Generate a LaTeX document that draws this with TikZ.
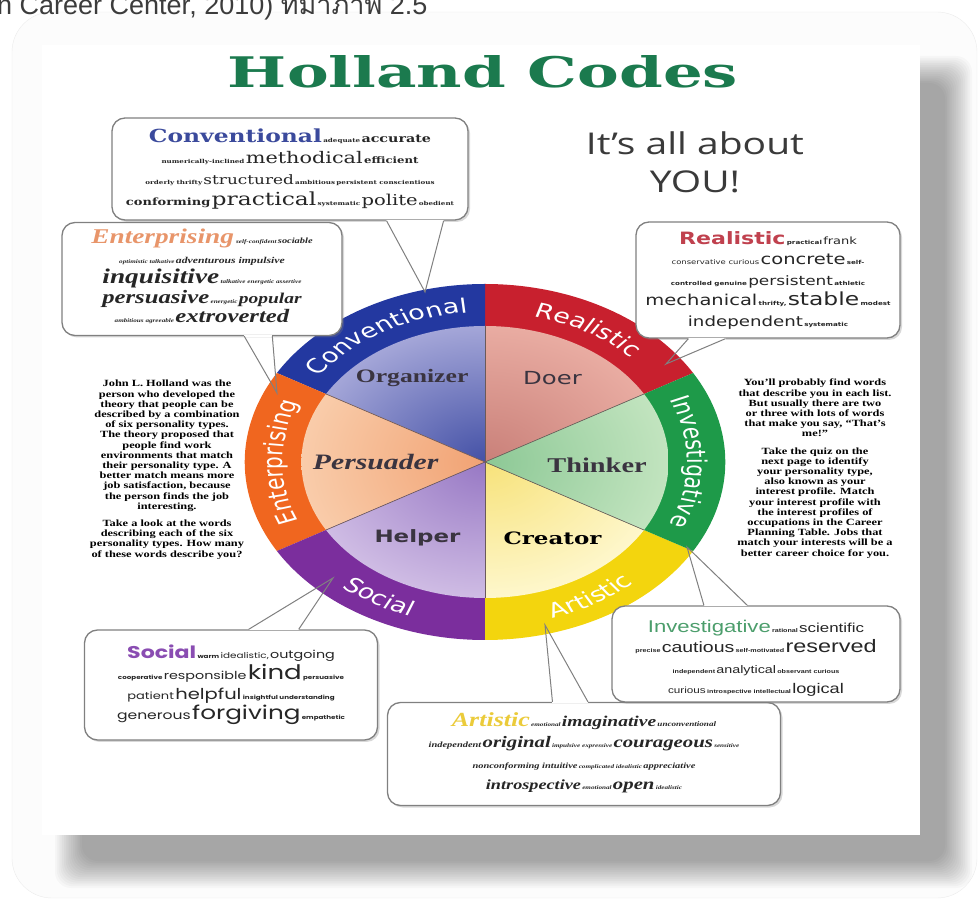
\documentclass[tikz,border=0pt]{standalone}
\usepackage{fontspec}
\usepackage{graphicx}
\setmainfont{Liberation Serif}
\setsansfont{DejaVu Sans}
\newfontfamily\dvserif{DejaVu Serif}
\newfontfamily\libsans{Liberation Sans}
\newfontfamily\roundfont{Poppins}
\newfontfamily\handfont{Open Sans}
\newfontfamily\thaifont[Script=Thai]{Loma}
\usetikzlibrary{calc,decorations.text,shadows}

\definecolor{titlegreen}{HTML}{1B7A4E}
\definecolor{realred}{HTML}{C8202E}
\definecolor{convblue}{HTML}{2338A0}
\definecolor{entorange}{HTML}{F0661F}
\definecolor{socpurple}{HTML}{7B2E9D}
\definecolor{artyellow}{HTML}{F3D50E}
\definecolor{invgreen}{HTML}{1E9A49}
\definecolor{realin}{HTML}{C98079}
\definecolor{realout}{HTML}{E9ACA2}
\definecolor{convin}{HTML}{4451A6}
\definecolor{convout}{HTML}{A4A6D8}
\definecolor{entin}{HTML}{F1A273}
\definecolor{entout}{HTML}{F9CCAA}
\definecolor{socin}{HTML}{9778C4}
\definecolor{socout}{HTML}{CFBCE4}
\definecolor{artin}{HTML}{F7E27A}
\definecolor{artout}{HTML}{FEF7CC}
\definecolor{invin}{HTML}{8CC895}
\definecolor{invout}{HTML}{C2E4BF}
\definecolor{convhead}{HTML}{3B4A9C}
\definecolor{enthead}{HTML}{E8956A}
\definecolor{realhead}{HTML}{C0414E}
\definecolor{invhead}{HTML}{4C9E6C}
\definecolor{sochead}{HTML}{8A4DB2}
\definecolor{arthead}{HTML}{EBCB3A}
\definecolor{boxgray}{HTML}{808080}
\definecolor{wordgray}{HTML}{262626}
\definecolor{pietext}{HTML}{3A3440}
\definecolor{dividercol}{HTML}{6B5A5A}
\definecolor{framegray}{HTML}{EBEBEB}
\definecolor{captiongray}{HTML}{3C3C3C}
\definecolor{handgray}{HTML}{3A3A3A}

\newcommand\fs[1]{\fontsize{#1}{#1}\selectfont}
\newcommand\tw[1]{{\fs{5.5}\bfseries #1}}
\newcommand\wide[1]{\scalebox{1.3}[1]{\begin{tabular}{@{}c@{}}#1\end{tabular}}}
\newcommand\ringfont{\sffamily\fs{20}}

\tikzset{
  callout/.style={draw=boxgray, line width=1.3pt, rounded corners=13pt, fill=white,
    drop shadow={shadow xshift=2pt, shadow yshift=-2pt, opacity=0.3}},
  pointer/.style={draw=boxgray, line width=1pt},
  cloud/.style={inner sep=0pt, text=wordgray},
  paratext/.style={inner sep=0pt, text=black, font=\bfseries\fontsize{9.5}{10.2}\selectfont},
  pielabel/.style={inner sep=0pt, text=pietext},
  divider/.style={draw=dividercol, line width=0.6pt},
  ringlabel/.style={decorate, decoration={text along path, text align=center,
    text color=white, text={|\ringfont|#1}}}
}

\begin{document}
\begin{tikzpicture}[x=1pt, y=1pt]
\useasboundingbox (0,0) rectangle (979,902);

% frame, shadow and poster
\draw[framegray, fill=gray!2, rounded corners=40pt] (12,4) rectangle (977,890);
\foreach \k in {0,...,15}
  \fill[black, opacity=0.022, rounded corners=16pt] (55+1.8*\k,14+1.8*\k) rectangle (972-1.8*\k,846-1.8*\k);
\fill[white] (42,67) rectangle (920,857);

\node[anchor=base west, inner sep=0pt, font=\libsans\fs{27}, text=captiongray] (caption)
  at (-3,887) {n Career Center, 2010) {\thaifont ที่มาภาพ} 2.5};

% title
\node[inner sep=0pt, text=titlegreen] (title) at (483,830)
  {\resizebox{510pt}{32pt}{\dvserif\bfseries Holland Codes}};
\node[inner sep=0pt, text=handgray, font=\handfont\fontsize{30}{38}\selectfont] (you)
  at (695,736) {\wide{It’s all about\\YOU!}};

% wheel
\begin{scope}[transform canvas={shift={(485,440)}, xscale=1.35}]
  \foreach \a/\ring/\pin/\pout in {30/realred/realin/realout, 90/convblue/convin/convout,
      150/entorange/entin/entout, 210/socpurple/socin/socout,
      270/artyellow/artin/artout, 330/invgreen/invin/invout} {
    \fill[\ring] (0,0) -- (\a:178) arc[start angle=\a, delta angle=60, radius=178] -- cycle;
    \begin{scope}
      \clip (0,0) -- (\a:136) arc[start angle=\a, delta angle=60, radius=136] -- cycle;
      \shade[inner color=\pin, outer color=\pout] (0,0) circle (136);
    \end{scope}
  }
  \foreach \a in {30,90,...,330}
    \draw[divider] (0,0) -- (\a:136);
  % ring labels
  \path[ringlabel=Realistic] (90:150) arc[start angle=90, end angle=30, radius=150];
  \path[ringlabel=Conventional] (150:150) arc[start angle=150, end angle=90, radius=150];
  \path[ringlabel=Enterprising] (210:150) arc[start angle=210, end angle=150, radius=150];
  \path[ringlabel=Investigative] (30:150) arc[start angle=30, end angle=-30, radius=150];
  \path[ringlabel=Social] (210:164) arc[start angle=210, end angle=270, radius=164];
  \path[ringlabel=Artistic] (270:164) arc[start angle=270, end angle=330, radius=164];
  % pie labels
  \node[pielabel, font=\bfseries\fs{19}] (organizer) at (-54,84) {Organizer};
  \node[pielabel, font=\sffamily\fs{18}] (doer) at (50,84) {Doer};
  \node[pielabel, font=\bfseries\itshape\fs{22}] (persuader) at (-81,0) {Persuader};
  \node[pielabel, font=\bfseries\fs{21}] (thinker) at (83,-3) {Thinker};
  \node[pielabel, font=\sffamily\bfseries\fs{17}] (helper) at (-50,-76) {Helper};
  \node[pielabel, text=black, font=\dvserif\bfseries\fs{17}] (creator) at (50,-76) {Creator};
\end{scope}

% side texts
\node[paratext] (holland) at (167,432) {\wide{John L. Holland was the\\
  person who developed the\\ theory that people can be\\ described by a combination\\
  of six personality types.\\ The theory proposed that\\ people find work\\
  environments that match\\ their personality type. A\\ better match means more\\
  job satisfaction, because\\ the person finds the job\\ interesting.\\[7pt]
  Take a look at the words\\ describing each of the six\\ personality types. How many\\
  of these words describe you?}};
\node[paratext] (quiz) at (815,433) {\wide{You’ll probably find words\\
  that describe you in each list.\\ But usually there are two\\ or three with lots of words\\
  that make you say, “That’s\\ me!”\\[7pt]
  Take the quiz on the\\ next page to identify\\ your personality type,\\
  also known as your\\ interest profile. Match\\ your interest profile with\\
  the interest profiles of\\ occupations in the Career\\ Planning Table. Jobs that\\
  match your interests will be a\\ better career choice for you.}};

% callout boxes
\node[callout, minimum width=356pt, minimum height=102pt] (conv) at (290,733) {};
\node[callout, minimum width=280pt, minimum height=113pt] (ent) at (202,623) {};
\node[callout, minimum width=264pt, minimum height=116pt] (real) at (768,622) {};
\node[callout, minimum width=293pt, minimum height=110pt] (soc) at (231,217) {};
\node[callout, minimum width=393pt, minimum height=103pt] (art) at (584,148) {};
\node[callout, minimum width=288pt, minimum height=96pt] (inv) at (756,248) {};

\coordinate (convtip) at (425,610);
\coordinate (enttip) at (277,509);
\coordinate (realtip) at (666,538);
\coordinate (soctip) at (333,324);
\coordinate (invtip) at (687,355);
\coordinate (arttip) at (545,277);

\foreach \bx/\ea/\eb/\fa/\fb/\tip in {conv/south west/south east/0.77/0.93/convtip,
    ent/south west/south east/0.65/0.75/enttip, real/south west/south east/0.2/0.34/realtip,
    soc/north west/north east/0.56/0.73/soctip, inv/north west/north east/0.32/0.47/invtip,
    art/north west/north east/0.42/0.51/arttip} {
  \draw[white, line width=2.2pt] ($(\bx.\ea)!\fa!(\bx.\eb)$) -- ($(\bx.\ea)!\fb!(\bx.\eb)$);
  \draw[pointer] ($(\bx.\ea)!\fa!(\bx.\eb)$) -- (\tip) -- ($(\bx.\ea)!\fb!(\bx.\eb)$);
}

% words
\node[cloud, font=\dvserif\fontsize{6}{21}\selectfont] (convwords) at (290,732) {\wide{%
  {\fs{18}\bfseries\color{convhead}Conventional}\,\tw{adequate}\,{\fs{11}\bfseries accurate}\\
  \tw{numerically-inclined}\,{\fs{16}methodical}\,{\fs{9}\bfseries efficient}\\
  \tw{orderly thrifty}\,{\fs{13}structured}\,\tw{ambitious}\,\tw{persistent conscientious}\\
  {\fs{10}\bfseries conforming}\,{\fs{18}practical}\,\tw{systematic}\,{\fs{15}polite}\,\tw{obedient}}};
\node[cloud, font=\bfseries\itshape\fontsize{6}{19.5}\selectfont] (entwords) at (202,623) {\wide{%
  {\fs{21}\color{enthead}Enterprising}\;\tw{self-confident}\,{\fs{8}sociable}\\
  \tw{optimistic talkative}\,{\fs{9}adventurous impulsive}\\
  {\fs{21}inquisitive}\,\tw{talkative energetic assertive}\\
  {\fs{19}persuasive}\,\tw{energetic}\,{\fs{15}popular}\\
  \tw{ambitious agreeable}\,{\fs{19}extroverted}}};
\node[cloud, font=\sffamily\fontsize{6}{20.5}\selectfont] (realwords) at (768,621) {\wide{%
  {\fs{17}\bfseries\color{realhead}Realistic}\,\tw{practical}\,{\fs{10}frank}\\
  {\fs{6.5}conservative curious}\,{\fs{15}concrete}\,\tw{self-}\\
  \tw{controlled genuine}\,{\fs{13}persistent}\,\tw{athletic}\\
  {\fs{15}mechanical}\,\tw{thrifty,}\,{\fs{18}stable}\,\tw{modest}\\
  {\fs{14}independent}\,\tw{systematic}}};
\node[cloud, font=\libsans\fontsize{6}{20.5}\selectfont] (invwords) at (756,243) {\wide{%
  {\fs{17}\color{invhead}Investigative}\,\tw{rational}\,{\fs{13}scientific}\\
  \tw{precise}\,{\fs{15}cautious}\,\tw{self-motivated}\,{\fs{18}reserved}\\
  \tw{independent}\,{\fs{11}analytical}\,\tw{observant curious}\\
  {\fs{9}curious}\,\tw{introspective intellectual}\,{\fs{14}logical}}};
\node[cloud, font=\roundfont\fontsize{6}{20}\selectfont] (socwords) at (231,217) {\wide{%
  {\fs{17}\bfseries\color{sochead}Social}\,\tw{warm}\,{\fs{8}idealistic,}\,{\fs{11}outgoing}\\
  \tw{cooperative}\,{\fs{11}responsible}\,{\fs{20}kind}\,\tw{persuasive}\\
  {\fs{10}patient}\,{\fs{15}helpful}\,\tw{insightful understanding}\\
  {\fs{12}generous}\,{\fs{19}forgiving}\,\tw{empathetic}}};
\node[cloud, font=\bfseries\itshape\fontsize{6}{21}\selectfont] (artwords) at (584,148) {\wide{%
  {\fs{20}\color{arthead}Artistic}\,\tw{emotional}\,{\fs{15}imaginative}\,{\fs{7}unconventional}\\
  {\fs{8}independent}\,{\fs{16}original}\,\tw{impulsive expressive}\,{\fs{16}courageous}\,\tw{sensitive}\\
  {\fs{8}nonconforming intuitive}\,\tw{complicated idealistic}\,{\fs{8}appreciative}\\
  {\fs{14}introspective}\,\tw{emotional}\,{\fs{16}open}\,\tw{idealistic}}};
\end{tikzpicture}
\end{document}
